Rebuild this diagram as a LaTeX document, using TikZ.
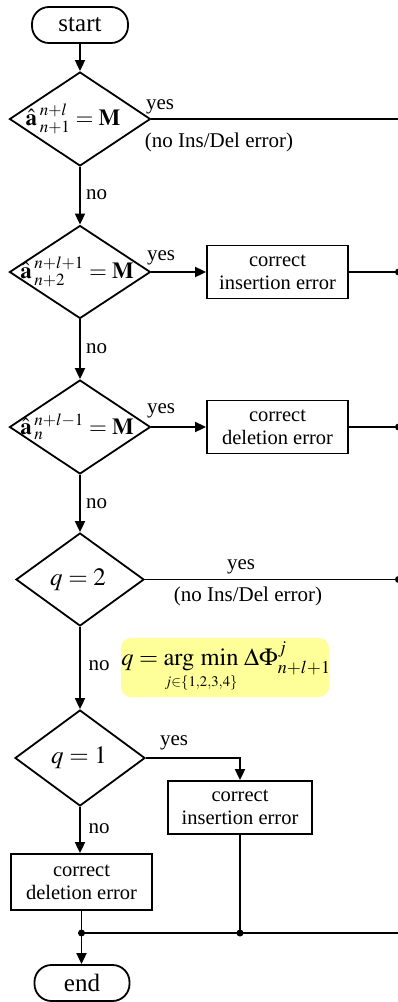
\documentclass[tikz,border=0pt]{standalone}
\usepackage{mathptmx}
\usepackage[no-math]{fontspec}
\setmainfont{Liberation Serif}
\usetikzlibrary{shapes.geometric,arrows.meta,calc}
\definecolor{hiyellow}{RGB}{255,255,153}
\tikzset{
  flow/.style={-{Triangle[length=11pt,width=10pt]}},
  term/.style={draw, rectangle, rounded corners=17pt, minimum width=96pt, minimum height=36pt, inner sep=0pt, font=\fontsize{25}{28}\selectfont},
  procbox/.style={draw, rectangle, minimum width=141pt, minimum height=53pt, inner sep=0pt, align=center, font=\fontsize{20.5}{23}\selectfont},
  dec/.style 2 args={draw, diamond, inner sep=0pt, minimum width=#1, minimum height=#2},
  lab/.style={inner sep=0pt, font=\fontsize{21}{24}\selectfont},
  mlab/.style={inner sep=0pt, font=\fontsize{23}{26}\selectfont},
  qlab/.style={inner sep=0pt, font=\fontsize{25}{28}\selectfont},
  jdot/.style={circle, fill, inner sep=0pt, minimum size=7pt},
  note/.style={rectangle, fill=hiyellow, rounded corners=10pt, minimum width=208pt, minimum height=59pt, inner sep=0pt}
}
\begin{document}
\begin{tikzpicture}[x=1pt,y=-1pt,line width=1.8pt]
\useasboundingbox (0,0) rectangle (397,1002);
% nodes
\node[term] (start) at (80,25) {start};
\node[dec={141pt}{94pt}] (d1) at (80,119) {};
\node[mlab] (f1) at (73,119) {$\hat{\mathbf a}\mkern2mu^{n+l}_{n+1}=\mathbf M$};
\node[dec={141pt}{93pt}] (d2) at (80,272) {};
\node[mlab] (f2) at (77,272) {$\hat{\mathbf a}\mkern2mu^{n+l+1}_{n+2}=\mathbf M$};
\node[dec={141pt}{94pt}] (d3) at (80,427) {};
\node[mlab] (f3) at (77,427) {$\hat{\mathbf a}\mkern2mu^{n+l-1}_{n}=\mathbf M$};
\node[dec={128pt}{93pt}] (d4) at (80,579.5) {};
\node[qlab] (f4) at (78,579.5) {$q=2$};
\node[dec={130pt}{96pt}] (d5) at (80,758) {};
\node[qlab] (f5) at (79,758) {$q=1$};
\node[procbox] (ins1) at (277.5,272) {correct\\insertion error};
\node[procbox] (del1) at (277.5,427) {correct\\deletion error};
\node[procbox, minimum width=144pt] (ins2) at (240,807.5) {correct\\insertion error};
\node[procbox, minimum height=56pt] (del2) at (81.5,882) {correct\\deletion error};
\node[term, minimum width=95pt] (end) at (82,983) {end};
\node[note] (cbox) at (225,667.5) {};
\node[inner sep=0pt, font=\fontsize{24.5}{28}\selectfont] (cf) at (226,667) {$q=\mathop{\mathrm{arg\ min}}\limits_{\scriptscriptstyle j\in\{1,2,3,4\}}\,\Delta\Phi^{j}_{n+l+1}$};
% coordinates
\coordinate (R) at (398.5,0);
\coordinate (r0) at (d1.east -| R);
\coordinate (r1) at (ins1.east -| R);
\coordinate (r2) at (del1.east -| R);
\coordinate (r3) at (d4.east -| R);
\coordinate (J1) at (81.5,933);
\coordinate (J2) at (240,933);
\coordinate (r4) at (J1 -| R);
% connectors
\draw[flow] (start) -- (d1);
\draw[flow] (d1) -- (d2);
\draw[flow] (d2) -- (d3);
\draw[flow] (d3) -- (d4);
\draw[flow] (d4) -- (d5);
\draw[flow] (d5.south) -- (d5.south |- del2.north);
\draw[flow] (d2.east) -- (ins1.west);
\draw[flow] (d3.east) -- (del1.west);
\draw[flow] (d5.east) -| (ins2.north);
\draw (d1.east) -- (r0);
\draw (ins1.east) -- (r1);
\draw (del1.east) -- (r2);
\draw (d4.east) -- (r3);
\draw (del2.south) -- (J1);
\draw (ins2.south) -- (J2);
\draw (J1) -- (r4);
\draw[flow] (J1) -- (end.north -| J1);
\node[jdot] (dr1) at (r1) {};
\node[jdot] (dr2) at (r2) {};
\node[jdot] (dr3) at (r3) {};
\node[jdot] (dj1) at (J1) {};
\node[jdot] (dj2) at (J2) {};
% labels
\node[lab] (y1) at (160,106.5) {yes};
\node[lab] (p1) at (219,142) {(no Ins/Del error)};
\node[lab] (n1) at (96.5,195) {no};
\node[lab] (y2) at (161,257.5) {yes};
\node[lab] (n2) at (96.5,349) {no};
\node[lab] (y3) at (161,410.5) {yes};
\node[lab] (n3) at (96.5,504) {no};
\node[lab] (y4) at (241,566.5) {yes};
\node[lab] (p4) at (248,596) {(no Ins/Del error)};
\node[lab] (n4) at (99,666) {no};
\node[lab] (y5) at (174,742.5) {yes};
\node[lab] (n5) at (99,829) {no};
\end{tikzpicture}
\end{document}
